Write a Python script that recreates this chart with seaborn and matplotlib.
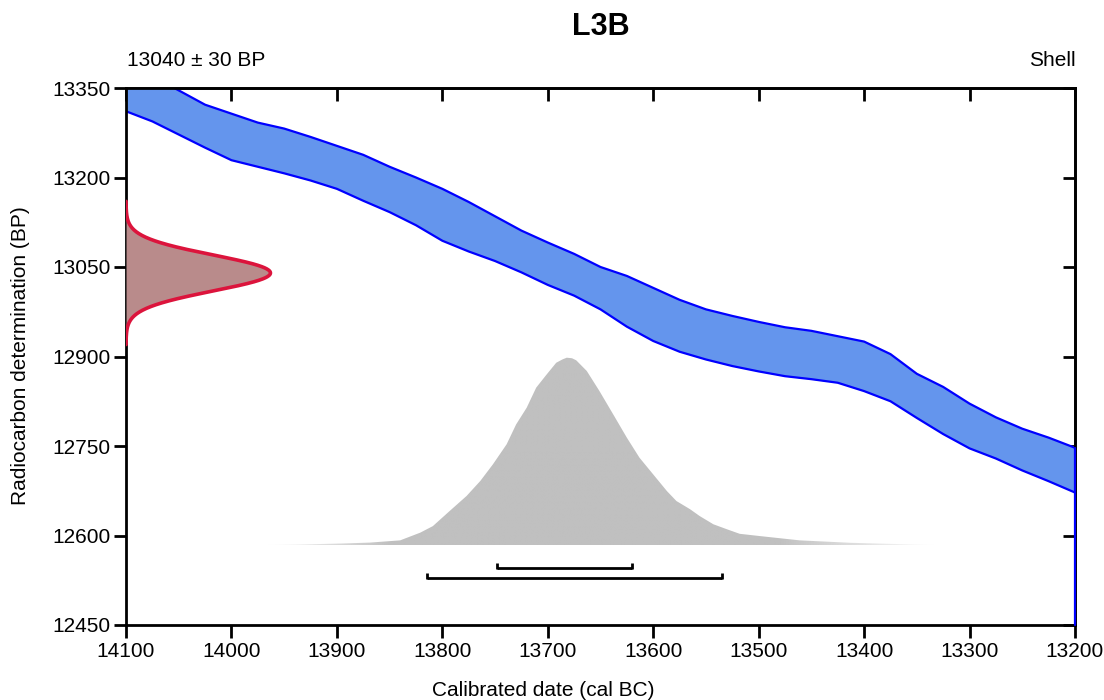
import numpy as np
import pandas as pd
import matplotlib
matplotlib.use("Agg")
import matplotlib.pyplot as plt
import seaborn as sns
from matplotlib.colors import to_rgb

# ---- sample ----------------------------------------------------------------
sample_name = "L3B"
c14_age = 13040        # BP
c14_error = 30         # BP
material = "Shell"

# ---- calibration curve band (cal BC -> BP, upper / lower 1-sigma edges) ----
cal_years = [14100, 14075, 14050, 14025, 14000, 13975, 13950, 13925, 13900,
             13875, 13850, 13825, 13800, 13775, 13750, 13725, 13700, 13675,
             13650, 13625, 13600, 13575, 13550, 13525, 13500, 13475, 13450,
             13425, 13400, 13375, 13350, 13325, 13300, 13275, 13250, 13225,
             13200]
curve_upper = [13392, 13370, 13346, 13322, 13307, 13292, 13282, 13268, 13253,
               13238, 13218, 13200, 13181, 13159, 13135, 13111, 13091, 13072,
               13050, 13035, 13015, 12995, 12979, 12968, 12958, 12949, 12943,
               12934, 12925, 12904, 12871, 12849, 12821, 12798, 12779, 12764,
               12747]
curve_lower = [13311, 13294, 13272, 13250, 13229, 13218, 13207, 13195, 13181,
               13161, 13142, 13120, 13094, 13076, 13060, 13041, 13020, 13002,
               12979, 12950, 12926, 12908, 12895, 12884, 12875, 12867, 12862,
               12856, 12842, 12825, 12797, 12770, 12746, 12729, 12709, 12691,
               12672]

# ---- calibrated probability distribution (relative) ------------------------
dist_years = [13970, 13935, 13897, 13869, 13840, 13821, 13809, 13793, 13777,
              13764, 13752, 13739, 13730, 13720, 13711, 13701, 13692, 13686,
              13682, 13677, 13673, 13663, 13651, 13638, 13625, 13613, 13600,
              13587, 13578, 13565, 13556, 13543, 13530, 13518, 13499, 13461,
              13413, 13366, 13328]
dist_prob = [0.0, 0.003, 0.008, 0.013, 0.025, 0.066, 0.101, 0.182, 0.262,
             0.342, 0.431, 0.538, 0.644, 0.733, 0.840, 0.911, 0.973, 0.991,
             1.0, 0.997, 0.986, 0.929, 0.822, 0.698, 0.573, 0.466, 0.377,
             0.288, 0.235, 0.191, 0.155, 0.111, 0.084, 0.060, 0.048, 0.025,
             0.012, 0.005, 0.0]

# ---- highest posterior density ranges (cal BC) -----------------------------
range_68 = [13748, 13620]
range_95 = [13815, 13535]

x_ticks = [14100, 14000, 13900, 13800, 13700, 13600, 13500, 13400, 13300, 13200]
y_ticks = [13350, 13200, 13050, 12900, 12750, 12600, 12450]

# ---- style -----------------------------------------------------------------
sns.set_theme(style="ticks")
plt.rcParams["font.family"] = ["Liberation Sans", "DejaVu Sans"]
plt.rcParams["axes.linewidth"] = 2.0
plt.rcParams["text.color"] = "black"
plt.rcParams["axes.labelcolor"] = "black"
plt.rcParams["xtick.color"] = "black"
plt.rcParams["ytick.color"] = "black"
plt.rcParams["lines.solid_joinstyle"] = "round"

FS = 15
band_fill = "#6495ED"
band_edge = "#0000FF"
dist_color = "#C0C0C0"
meas_fill = "#B98B8B"
meas_edge = "#DC143C"

fig = plt.figure(figsize=(11.04, 7.0), dpi=100)
ax = fig.add_axes([126 / 1104, 1 - 625 / 700, 949 / 1104, 537 / 700])

xmin, xmax = 14100, 13200
ymin, ymax = 12450, 13350

# calibration band
ax.fill_between(cal_years, curve_lower, curve_upper, color=band_fill,
                linewidth=0, zorder=1)
band = pd.DataFrame({"year": cal_years + cal_years,
                     "bp": curve_upper + curve_lower,
                     "edge": ["upper"] * len(cal_years) + ["lower"] * len(cal_years)})
sns.lineplot(data=band, x="year", y="bp", units="edge", estimator=None,
             sort=False, color=band_edge, linewidth=1.6, ax=ax, zorder=2,
             legend=False)
ax.plot([cal_years[-1], cal_years[-1]], [ymin, curve_upper[-1]],
        color=band_edge, linewidth=1.6, zorder=3, clip_on=False)

# calibrated distribution with faded tails
dist_base, dist_height = 12584, 314
yrs = np.asarray(dist_years, float)
tops = dist_base + np.asarray(dist_prob, float) * dist_height
poly = ax.fill_between(yrs, dist_base, tops, facecolor="none",
                       edgecolor="none", zorder=1.5)
xs = np.linspace(yrs.min(), yrs.max(), 800)
alpha = np.clip(np.minimum((13975 - xs) / 125.0, (xs - 13330) / 150.0), 0, 1)
rgba = np.zeros((1, xs.size, 4))
rgba[..., :3] = to_rgb(dist_color)
rgba[..., 3] = alpha
im = ax.imshow(rgba, extent=(xs[0], xs[-1], dist_base, dist_base + dist_height),
               aspect="auto", interpolation="bilinear", zorder=1.5)
im.set_clip_path(poly.get_paths()[0], transform=ax.transData)

# radiocarbon measurement (normal distribution on the BP axis)
meas_width = 137
bp = np.linspace(c14_age - 4 * c14_error, c14_age + 4 * c14_error, 400)
dens = np.exp(-0.5 * ((bp - c14_age) / c14_error) ** 2)
mx = xmin - dens * meas_width
ax.fill_betweenx(bp, xmin, mx, color=meas_fill, linewidth=0, zorder=3)
meas = pd.DataFrame({"x": mx, "y": bp})
sns.lineplot(data=meas, x="x", y="y", estimator=None, sort=False,
             color=meas_edge, linewidth=2.6, ax=ax, zorder=4)

# HPD range bars
cap = 9
for rng, yb in ((range_68, 12545), (range_95, 12528)):
    ax.hlines(yb, rng[0], rng[1], color="black", linewidth=2.0, zorder=4)
    ax.vlines(rng, yb - 1, yb + cap, color="black", linewidth=2.0, zorder=4)

# axes
ax.set_xlim(xmin, xmax)
ax.set_ylim(ymin, ymax)
ax.set_xticks(x_ticks)
ax.set_yticks(y_ticks)
ax.set_xticklabels([str(v) for v in x_ticks])
ax.set_yticklabels([str(v) for v in y_ticks])
ax.tick_params(axis="both", direction="out", length=9, width=2,
               labelsize=FS, colors="black")
ax.tick_params(axis="x", pad=3)
ax.tick_params(axis="y", pad=2)
ax.set_xlabel("")
ax.set_ylabel("")
for s in ax.spines.values():
    s.set_visible(True)
    s.set_color("black")
    s.set_linewidth(2.0)

top = ax.secondary_xaxis("top")
top.set_xticks(x_ticks)
top.tick_params(direction="in", length=9, width=2, labeltop=False)
right = ax.secondary_yaxis("right")
right.set_yticks(y_ticks)
right.tick_params(direction="in", length=9, width=2, labelright=False)

# text
fig.text(0.5 + (600.5 - 552) / 1104, 1 - 27 / 700, sample_name,
         ha="center", va="center", fontsize=22, fontweight="bold",
         color="black")
fig.text(127 / 1104, 1 - 60 / 700, f"{c14_age} \u00b1 {c14_error} BP",
         ha="left", va="center", fontsize=FS, color="black")
fig.text(1076 / 1104, 1 - 60 / 700, material, ha="right", va="center",
         fontsize=FS, color="black")
fig.text(543 / 1104, 1 - 690 / 700, "Calibrated date (cal BC)",
         ha="center", va="center", fontsize=FS, color="black")
fig.text(21 / 1104, 1 - 356 / 700, "Radiocarbon determination (BP)",
         ha="center", va="center", rotation=90, fontsize=FS, color="black")

fig.savefig("out.png", dpi=100)
